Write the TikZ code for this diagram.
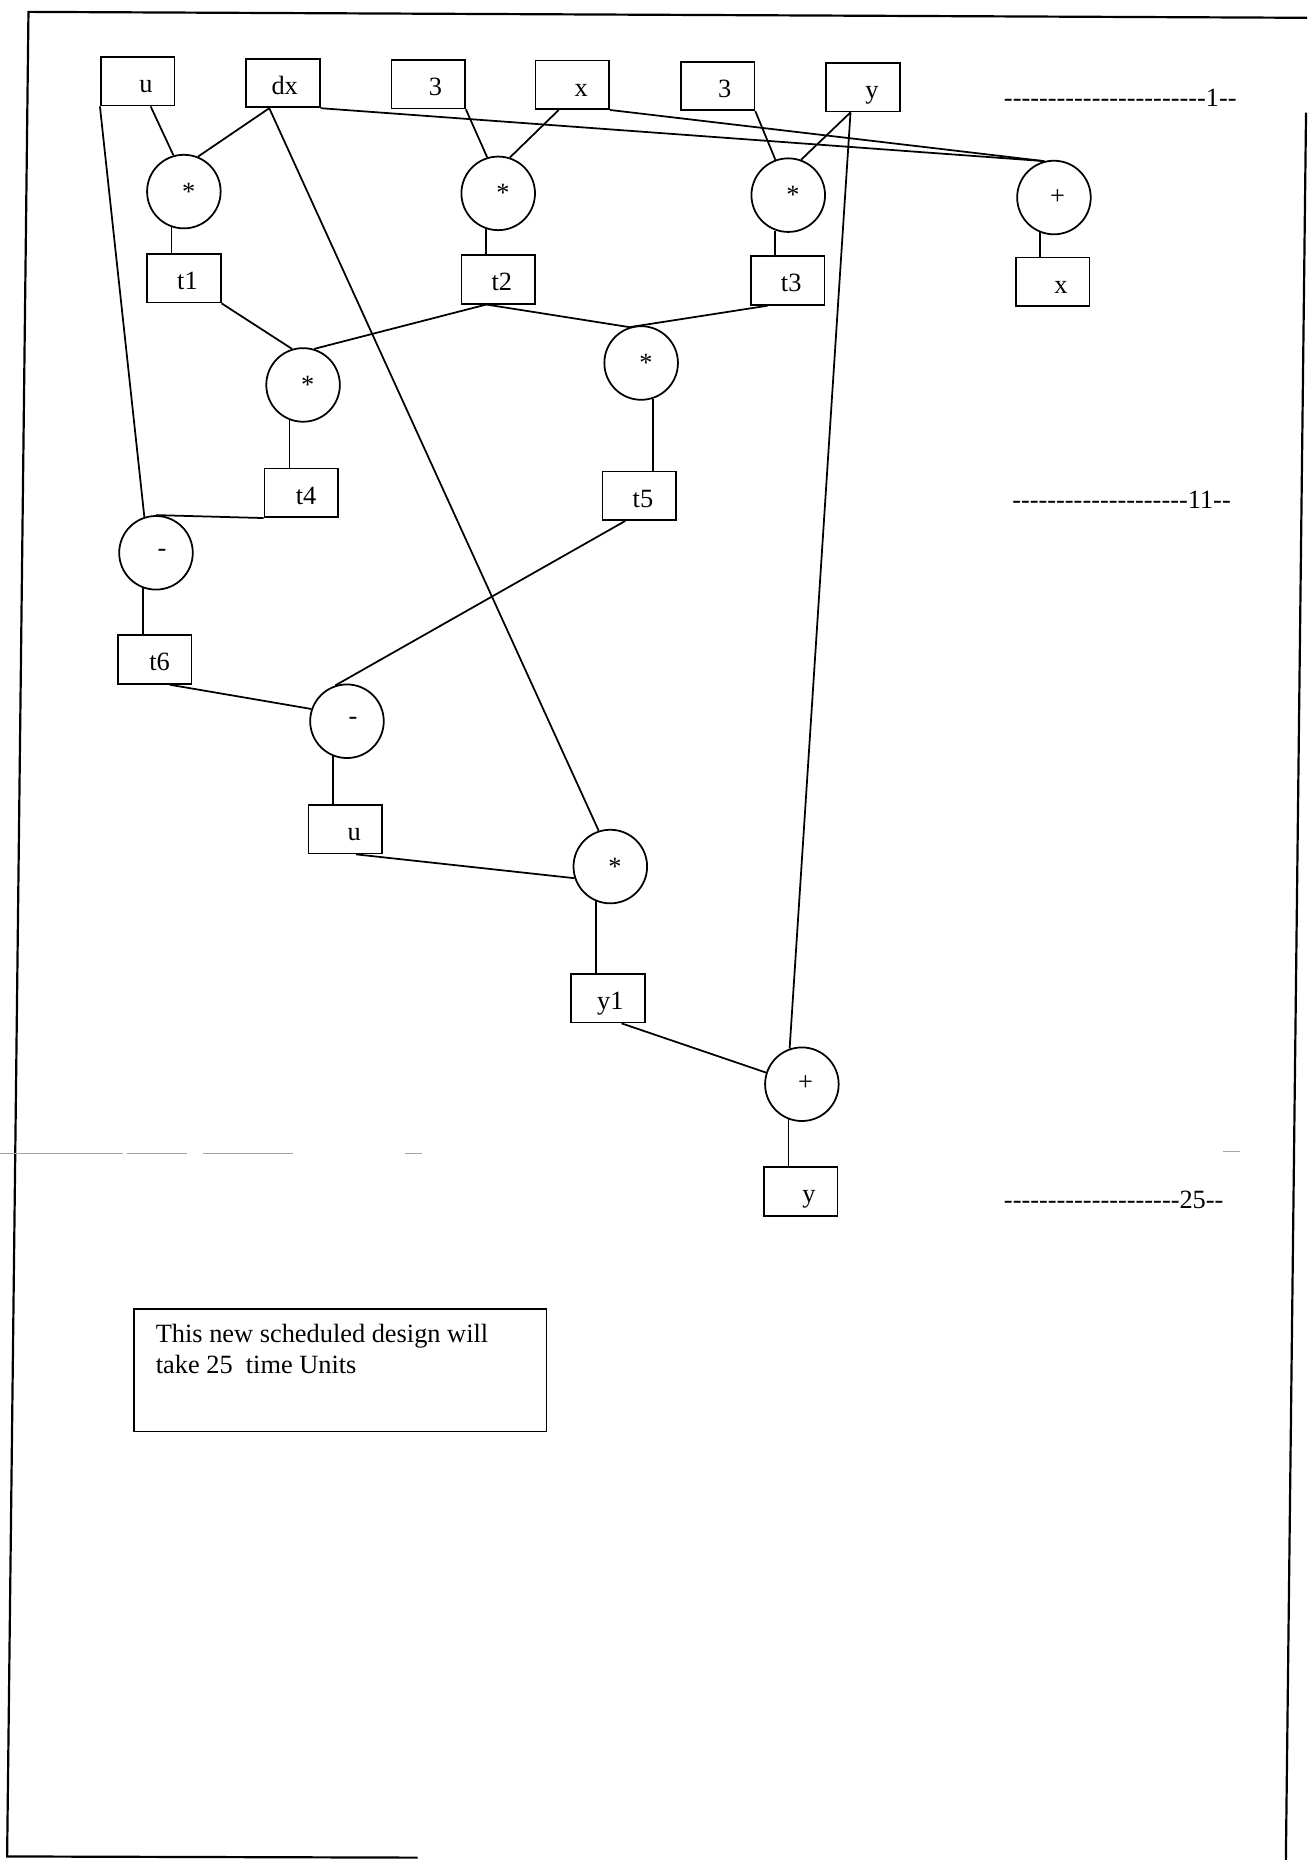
\documentclass[tikz,border=0pt]{standalone}
\usepackage{fontspec}
\setmainfont{Liberation Serif}
\usetikzlibrary{calc}
\newcommand\hy{\hbox{-}}
\begin{document}
\begin{tikzpicture}[x=0.54pt, y=-0.54pt, font=\fontsize{12}{14}\selectfont,
  vbox/.style={draw, line width=0.8pt, minimum width=33.5pt, minimum height=22.1pt, inner sep=0pt},
  op/.style={circle, draw, line width=0.8pt, minimum size=33.5pt, inner sep=0pt},
  lbl/.style={anchor=base, inner sep=0pt},
  oplbl/.style={anchor=center, inner sep=0pt},
  lvl/.style={anchor=base west, inner sep=0pt},
  wire/.style={line width=0.8pt},
  frame/.style={line width=1pt},
  scan/.style={line width=0.4pt, black!35}]
\fill[white] (0,0) rectangle (1102,1568);
\useasboundingbox (0,0) rectangle (1102,1568);

% page frame (scanned)
\draw[frame] (1102,15) -- (24,10) -- (6,1565) -- (352,1566);
\draw[frame] (1101,95) -- (1084,1568);
% faint scan line
\draw[scan] (0,972) -- (104,972);
\draw[scan] (107,972) -- (158,972);
\draw[scan] (171,972) -- (247,972);
\draw[scan] (341,972) -- (356,972);
\draw[scan] (1031,971) -- (1045,971);

% row 1 inputs
\node[vbox] (bu)  at (116,68.5) {};   \node[lbl] (bu-t)  at (123,78) {u};
\node[vbox] (bdx) at (238.5,70) {};   \node[lbl] (bdx-t) at (240,79.5) {dx};
\node[vbox] (b3a) at (361,71) {};     \node[lbl] (b3a-t) at (367,80.5) {3};
\node[vbox] (bx)  at (482.5,71.5) {}; \node[lbl] (bx-t)  at (490,81) {x};
\node[vbox] (b3b) at (605,72.5) {};   \node[lbl] (b3b-t) at (611,82) {3};
\node[vbox] (by)  at (727.5,73.5) {}; \node[lbl] (by-t)  at (735,83) {y};

% operators
\node[op] (m1) at (155,161.5) {};   \node[oplbl] (m1-t) at (159,161.5) {*};
\node[op] (m2) at (420,163) {};     \node[oplbl] (m2-t) at (424,163) {*};
\node[op] (m3) at (664.5,164.5) {}; \node[oplbl] (m3-t) at (668.5,164.5) {*};
\node[op] (p1) at (888.5,166.5) {}; \node[oplbl] (p1-t) at (891.5,166.5) {+};
\node[op] (m4) at (255.5,324.5) {}; \node[oplbl] (m4-t) at (259.5,324.5) {*};
\node[op] (m5) at (540.5,306) {};   \node[oplbl] (m5-t) at (544.5,306) {*};
\node[op] (s1) at (131.5,466) {};   \node[oplbl] (s1-t) at (136.5,466) {-};
\node[op] (s2) at (292.5,608) {};   \node[oplbl] (s2-t) at (297.5,608) {-};
\node[op] (m6) at (514.5,730.5) {}; \node[oplbl] (m6-t) at (518.5,730.5) {*};
\node[op] (p2) at (676,914) {};     \node[oplbl] (p2-t) at (679,913) {+};

% intermediate values
\node[vbox] (bt1) at (155,234.5) {};   \node[lbl] (bt1-t) at (158,244) {t1};
\node[vbox] (bt2) at (420,235.5) {};   \node[lbl] (bt2-t) at (423,245) {t2};
\node[vbox] (bt3) at (664,236.5) {};   \node[lbl] (bt3-t) at (667,246) {t3};
\node[vbox] (bx2) at (887.5,237.5) {}; \node[lbl] (bx2-t) at (894.5,247) {x};
\node[vbox] (bt4) at (254,415.5) {};   \node[lbl] (bt4-t) at (258,425) {t4};
\node[vbox] (bt5) at (539,418) {};     \node[lbl] (bt5-t) at (542,427.5) {t5};
\node[vbox] (bt6) at (130.5,556) {};   \node[lbl] (bt6-t) at (134.5,565.5) {t6};
\node[vbox] (bu2) at (291,699) {};     \node[lbl] (bu2-t) at (298.5,708.5) {u};
\node[vbox] (by1) at (512.5,841.5) {}; \node[lbl] (by1-t) at (514.5,851) {y1};
\node[vbox] (by2) at (675,1004.5) {};  \node[lbl] (by2-t) at (682,1014) {y};

% time-step markers
\node[lvl] (lv1)  at (846,89.5) {\hy\hy\hy\hy\hy\hy\hy\hy\hy\hy\hy\hy\hy\hy\hy\hy\hy\hy\hy\hy\hy\hy\hy 1\hy\hy};
\node[lvl] (lv11) at (853,429)  {\hy\hy\hy\hy\hy\hy\hy\hy\hy\hy\hy\hy\hy\hy\hy\hy\hy\hy\hy\hy 11\hy\hy};
\node[lvl] (lv25) at (846,1019) {\hy\hy\hy\hy\hy\hy\hy\hy\hy\hy\hy\hy\hy\hy\hy\hy\hy\hy\hy\hy 25\hy\hy};

% note
\node[draw, line width=0.8pt, inner sep=0pt, minimum width=187.9pt, minimum height=55.6pt, anchor=north west] (note) at (112,1103) {};
\node[anchor=base west, inner sep=0pt] (note1) at (131,1132) {This new scheduled design will};
\node[anchor=base west, inner sep=0pt] (note2) at (131,1158) {take 25~ time Units};

% connectors
\draw[wire] ($(bu.south)+(11,0)$) -- (m1.106);
\draw[wire] ($(bdx.south)+(-11.5,0)$) -- (m1.68);
\draw[wire] ($(bdx.south)+(-11.5,0)$) -- (m6.108);
\draw[wire] (bdx.south east) -- (p1.105);
\draw[wire] (b3a.south east) -- (m2.107);
\draw[wire] ($(bx.south)+(-11.5,0)$) -- (m2.72);
\draw[wire] (bx.south east) -- (p1.105);
\draw[wire] (b3b.south east) -- (m3.110);
\draw[wire] ($(by.south)+(-10.5,0)$) -- (m3.70);
\draw[wire] ($(by.south)+(-10.5,0)$) -- (p2.109);
\draw[wire] (m1.-109) -- (m1.-109 |- bt1.north);
\draw[wire] (m2.-109) -- (m2.-109 |- bt2.north);
\draw[wire] (m3.-110) -- (m3.-110 |- bt3.north);
\draw[wire] (p1.-112) -- (p1.-112 |- bx2.north);
\draw[wire] (bt1.south east) -- (m4.107);
\draw[wire] ($(bt2.south)+(-10,0)$) -- (m4.73);
\draw[wire] ($(bt2.south)+(-10,0)$) -- (m5.108);
\draw[wire] ($(bt3.south)+(-17,0)$) -- (m5.108);
\draw[wire] (m4.-111) -- (m4.-111 |- bt4.north);
\draw[wire] (m5.-72) -- (m5.-72 |- bt5.north);
\draw[wire] (bu.south west) -- (s1.108);
\draw[wire] (bt4.south west) -- (s1.north);
\draw[wire] (s1.-110) -- (s1.-110 |- bt6.north);
\draw[wire] ($(bt6.south)+(12.5,0)$) -- (s2.161);
\draw[wire] ($(bt5.south)+(-12,0)$) -- (s2.108);
\draw[wire] (s2.-112) -- (s2.-112 |- bu2.north);
\draw[wire] ($(bu2.south)+(9,0)$) -- (m6.198);
\draw[wire] (m6.-112) -- (m6.-112 |- by1.north);
\draw[wire] ($(by1.south)+(11.5,0)$) -- (p2.162);
\draw[wire] (p2.-111) -- (p2.-111 |- by2.north);
\end{tikzpicture}
\end{document}
